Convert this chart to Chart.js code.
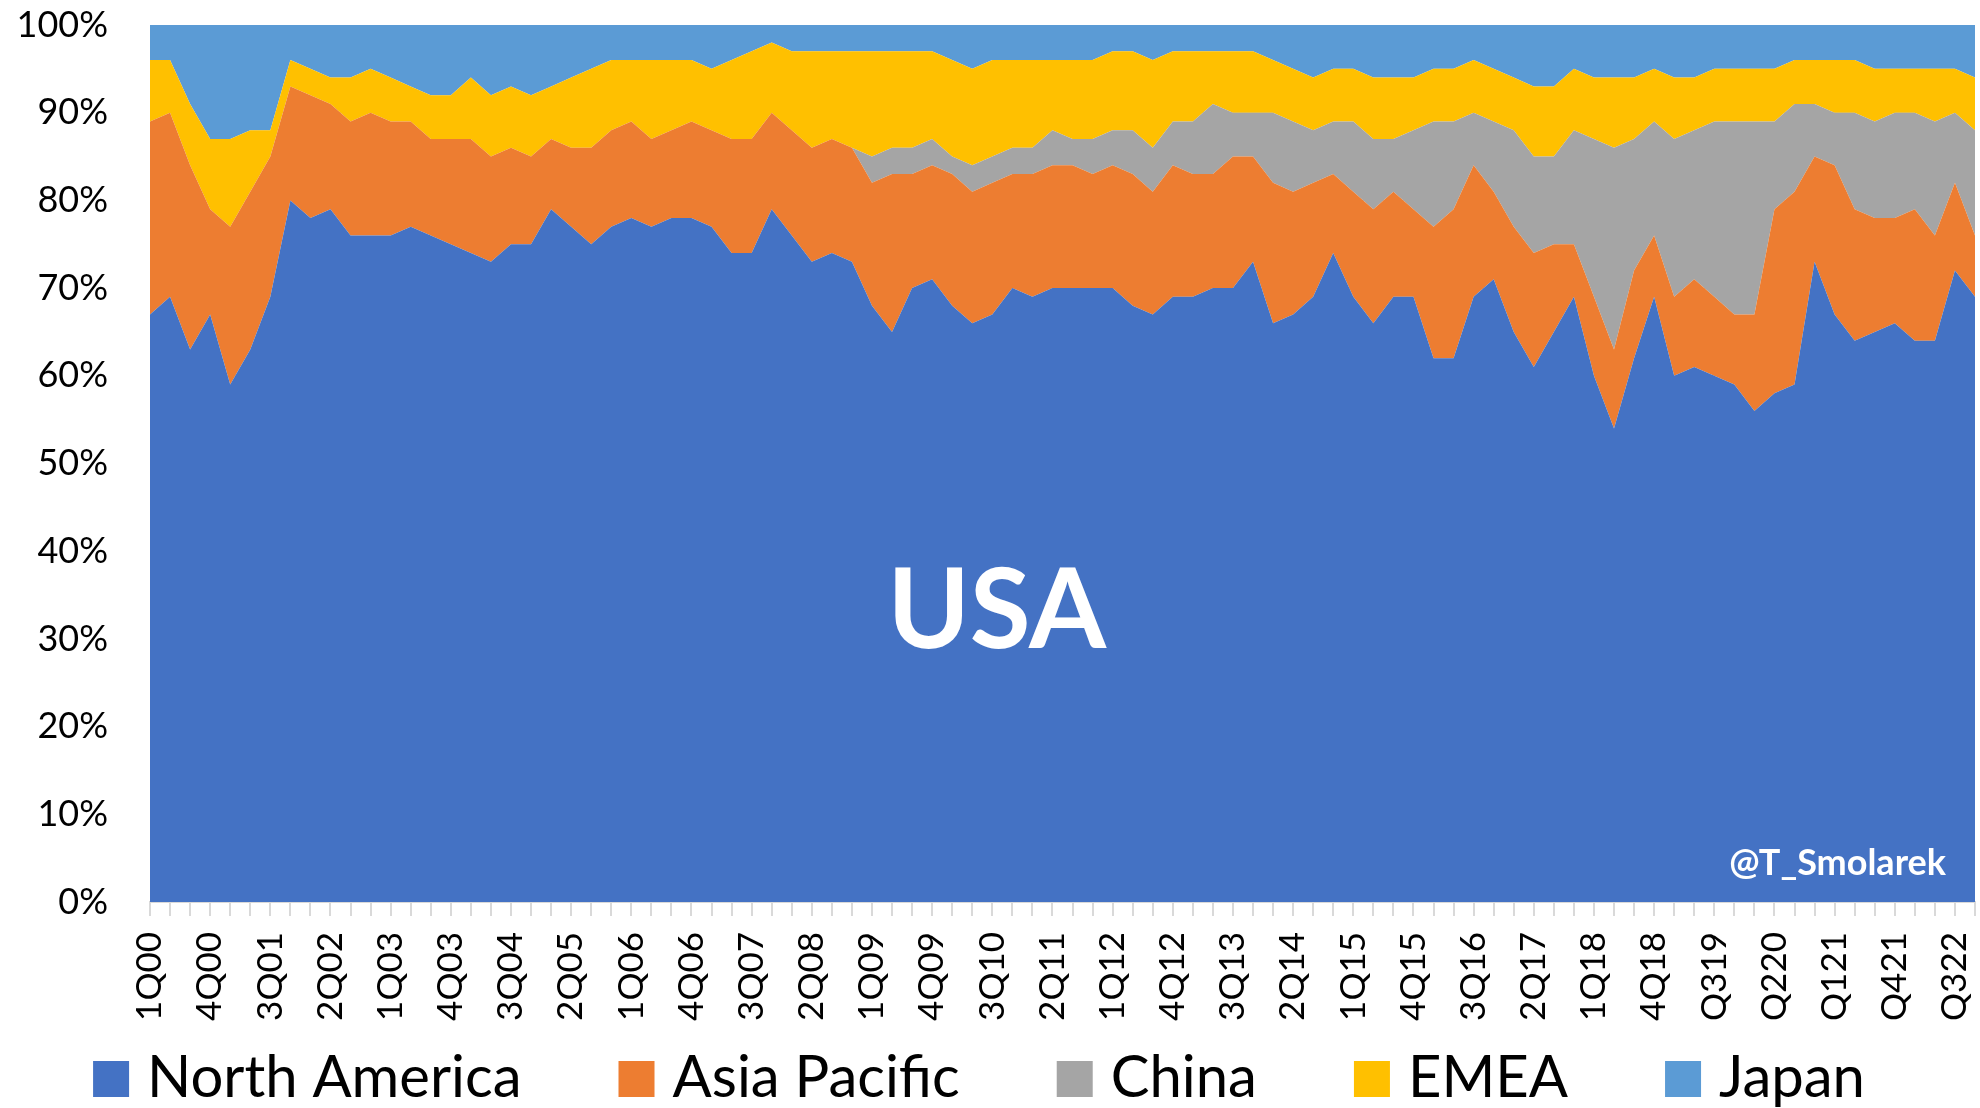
<!DOCTYPE html>
<html><head><meta charset="utf-8">
<script src="https://cdn.jsdelivr.net/npm/chart.js@4/dist/chart.umd.min.js"></script>
<style>html,body{margin:0;padding:0;background:#fff;overflow:hidden}</style>
</head><body>
<canvas id="c" width="1980" height="1108"></canvas>
<script>
const quarters = [
 '1Q00','2Q00','3Q00','4Q00','1Q01','2Q01','3Q01','4Q01','1Q02','2Q02','3Q02','4Q02',
 '1Q03','2Q03','3Q03','4Q03','1Q04','2Q04','3Q04','4Q04','1Q05','2Q05','3Q05','4Q05',
 '1Q06','2Q06','3Q06','4Q06','1Q07','2Q07','3Q07','4Q07','1Q08','2Q08','3Q08','4Q08',
 '1Q09','2Q09','3Q09','4Q09','1Q10','2Q10','3Q10','4Q10','1Q11','2Q11','3Q11','4Q11',
 '1Q12','2Q12','3Q12','4Q12','1Q13','2Q13','3Q13','4Q13','1Q14','2Q14','3Q14','4Q14',
 '1Q15','2Q15','3Q15','4Q15','1Q16','2Q16','3Q16','4Q16','1Q17','2Q17','3Q17','4Q17',
 '1Q18','2Q18','3Q18','4Q18','Q119','Q219','Q319','Q419','Q120','Q220','Q320','Q420',
 'Q121','Q221','Q321','Q421','Q122','Q222','Q322','Q422'
];
const northAmerica = [67,69,63,67,59,63,69,80,78,79, 76,76,76,77,76,75,74,73,75,75,
 79,77,75,77,78,77,78,78,77,74, 74,79,76,73,74,73,68,65,70,71, 68,66,67,70,69,70,70,70,70,68,
 67,69,69,70,70,73,66,67,69,74, 69,66,69,69,62,62,69,71,65,61, 65,69,60,54,62,69,60,61,60,59,
 56,58,59,73,67,64,65,66,64,64, 72,69];
const asiaPacific = [22,21,21,12,18,18,16,13,14,12, 13,14,13,12,11,12,13,12,11,10,
 8,9,11,11,11,10,10,11,11,13, 13,11,12,13,13,13,14,18,13,13, 15,15,15,13,14,14,14,13,14,15,
 14,15,14,13,15,12,16,14,13,9, 12,13,12,10,15,17,15,10,12,13, 10,6,9,9,10,7,9,10,9,8,
 11,21,22,12,17,15,13,12,15,12, 10,7];
const china = [0,0,0,0,0,0,0,0,0,0, 0,0,0,0,0,0,0,0,0,0, 0,0,0,0,0,0,0,0,0,0,
 0,0,0,0,0,0,3,3,3,3, 2,3,3,3,3,4,3,4,4,5, 5,5,6,8,5,5,8,8,6,6, 8,8,6,9,12,10,6,8,11,11,
 10,13,18,23,15,13,18,17,20,22, 22,10,10,6,6,11,11,12,11,13, 8,12];
const emea = [7,6,7,8,10,7,3,3,3,3, 5,5,5,4,5,5,7,7,7,7, 6,8,9,8,7,9,8,7,7,9,
 10,8,9,11,10,11,12,11,11,10, 11,11,11,10,10,8,9,9,9,9, 10,8,8,6,7,7,6,6,6,6,
 6,7,7,6,6,6,6,6,6,8, 8,7,7,8,7,6,7,6,6,6, 6,6,5,5,6,6,6,5,5,6, 5,6];
const japan = [4,4,9,13,13,12,12,4,5,6, 6,5,6,7,8,8,6,8,7,8, 7,6,5,4,4,4,4,4,5,4,
 3,2,3,3,3,3,3,3,3,3, 4,5,4,4,4,4,4,4,3,3, 4,3,3,3,3,3,4,5,6,5,
 5,6,6,6,5,5,4,5,6,7, 7,5,6,6,6,5,6,6,5,5, 5,5,4,4,4,4,5,5,5,5, 5,6];
const seriesNames = ['North America','Asia Pacific','China','EMEA','Japan'];
const seriesData = [northAmerica, asiaPacific, china, emea, japan];
const seriesColors = ['#4472C4','#ED7D31','#A5A5A5','#FFC000','#5B9BD5'];
const yTicks = [0,10,20,30,40,50,60,70,80,90,100];

const overlay = {
  id: 'overlay',
  afterDatasetsDraw(chart) {
    const {ctx, chartArea: a} = chart;
    ctx.save();
    ctx.fillStyle = '#ffffff';
    ctx.textBaseline = 'alphabetic';
    ctx.textAlign = 'center';
    ctx.font = 'bold 111px Lato';
    ctx.fillText('USA', a.left + a.width * 0.464, a.top + a.height * 0.710);
    ctx.textAlign = 'right';
    ctx.font = 'bold 36px Lato';
    ctx.fillText('@T_Smolarek', a.right - 29, a.bottom - 27);
    ctx.restore();
  }
};

const bottomLegend = {
  id: 'bottomLegend',
  afterDraw(chart) {
    const ctx = chart.ctx;
    const box = 36, gap = 18, itemGap = 97;
    ctx.save();
    ctx.font = '58px Lato';
    ctx.textBaseline = 'alphabetic';
    ctx.textAlign = 'left';
    const items = chart.data.datasets.map(d => ({text: d.label, color: d.backgroundColor, w: ctx.measureText(d.label).width}));
    const total = items.reduce((s, it) => s + box + gap + it.w, 0) + itemGap * (items.length - 1);
    let x = chart.width / 2 - 11 - total / 2;
    const base = chart.height - 11;
    items.forEach(it => {
      ctx.fillStyle = it.color;
      ctx.fillRect(x, base - box, box, box);
      ctx.fillStyle = '#000';
      ctx.fillText(it.text, x + box + gap, base);
      x += box + gap + it.w + itemGap;
    });
    ctx.restore();
  }
};

new Chart(document.getElementById('c'), {
  type: 'line',
  data: {
    labels: quarters,
    datasets: seriesNames.map((name, i) => ({
      label: name,
      data: seriesData[i],
      backgroundColor: seriesColors[i],
      borderColor: seriesColors[i],
      borderWidth: 0,
      pointRadius: 0,
      tension: 0,
      fill: i === 0 ? 'origin' : '-1'
    }))
  },
  options: {
    responsive: false,
    animation: false,
    layout: {padding: {top: 25, left: 0, right: 5, bottom: 86}},
    plugins: {
      tooltip: {enabled: false},
      legend: {display: false}
    },
    scales: {
      x: {
        offset: false,
        grid: {display: true, drawOnChartArea: false, drawTicks: true, tickLength: 14, color: '#d9d9d9', lineWidth: 2},
        border: {display: true, color: '#d9d9d9', width: 2},
        ticks: {
          autoSkip: false, maxRotation: 90, minRotation: 90, padding: 16,
          font: {family: 'Lato', size: 35}, color: '#000',
          callback: (v, i) => (i % 3 === 0 ? quarters[i] : '')
        },
        afterFit: (s) => { s.height = 120; s.paddingLeft = 0; s.paddingRight = 0; }
      },
      y: {
        stacked: true, min: 0, max: 100,
        afterBuildTicks: (s) => { s.ticks = yTicks.map(v => ({value: v})); },
        ticks: {callback: v => v + '%', font: {family: 'Lato', size: 36}, color: '#000', padding: 42},
        grid: {color: '#d9d9d9', drawTicks: false},
        border: {display: false},
        afterFit: (s) => { s.width = 150; s.paddingTop = 0; s.paddingBottom = 0; }
      }
    }
  },
  plugins: [overlay, bottomLegend]
});
</script>
</body></html>
